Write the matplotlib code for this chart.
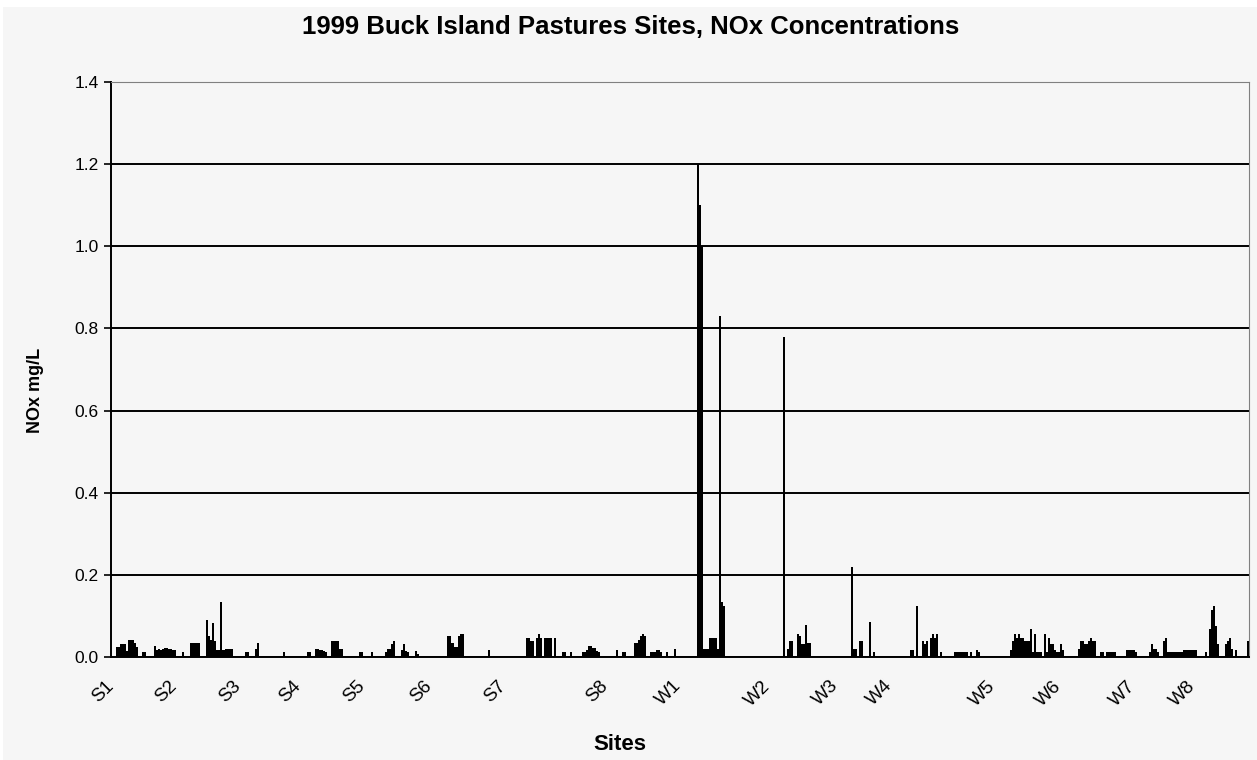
import numpy as np
import matplotlib.pyplot as plt
from matplotlib.patches import Rectangle

###### data (NOx mg/L per sample, grouped by site)

s1 = [.024, .024, .032, .032, .032, .015, .041, .041, .041, .035, .024, 0, 0, .013, .013,
      0, 0, 0, 0, .026, .018, .02, .018, .02, .022, .022, .02, .02, .016, .016, 0, 0]
s2 = [0, .013, 0, 0, 0, .034, .034, .034, .034, .034, 0, 0, 0, .09, .052, .041, .082, .038,
      .017, .017, .135, .017, .017, .02, .02, .02, .02, 0, 0, 0, 0, 0]
s3 = [0, .013, .013, 0, 0, 0, .02, .034] + [0] * 12 + [.013] + [0] * 9
s4 = [0, 0, .011, .011, 0, 0, .02, .02, .016, .018, .014, .011, 0, 0, .039, .039, .039, .039,
      .02, .02] + [0] * 8 + [.011, .011, 0, 0]
s5 = [0, 0, .011, 0, 0, 0, 0, 0, 0, .011, .02, .02, .031, .039, 0, 0, 0, .018, .031, .014,
      .011, 0, 0, 0, .014, .008] + [0] * 8
s6 = [0] * 6 + [.05, .05, .034, .034, .024, .024, .05, .057, .057] + [0] * 12 + [.016] + [0] * 9
s7 = [0] * 9 + [.047, .047, .04, .04, 0, .047, .055, .047, 0, .047, .047, .047, .047, 0, .047,
      0, 0, 0, .011, .011, 0, 0, .011, 0, 0, 0, 0, 0, .013, .013, .018, .028, .028, .022,
      .022, .015, .013] + [0] * 5
s8 = [0, 0, 0, .016, 0, 0, .011, .011, 0, 0, 0, 0, .033, .033, .041, .05, .057, .05, 0, 0,
      .011, .011, .011, .016, .016, .011, 0, 0, .011, 0, 0, 0, .02, 0, 0, 0, 0]
w1 = [0] * 7 + [1.2, 1.1, 1.0, .02, .02, .02, .046, .046, .046, .046, .02, .83, .135, .124] + [0] * 24
w2 = [0] * 5 + [.78, 0, .02, .039, .039, 0, 0, .055, .05, .031, .031, .077, .033, .033] + [0] * 15
w3 = [0] * 5 + [.22, .02, .02, 0, .04, .04, 0, 0, 0, .086, 0, .011] + [0] * 10
w4 = [0] * 8 + [.018, .018, 0, .124, 0, 0, .039, .031, .039, 0, .047, .055, .047, .055, 0,
      .011] + [0] * 6 + [.011] * 7 + [0, .011, 0, 0, .016, .011] + [0] * 9
w5 = [0] * 6 + [.016, .04, .055, .047, .055, .047, .047, .04, .04, .04, .069, .011, .055, .011,
      .011, .011, 0, .055, .011, .047, .031, .031, .018, .011, .011, .031, .016]
w6 = [0] * 7 + [.02, .04, .04, .031, .031, .04, .047, .04, .04, 0, 0, .011, .011, 0] + [.011] * 5 \
     + [0] * 5 + [.016] * 5 + [.011]
w7 = [0] * 6 + [.011, .031, .02, .02, .011, 0, 0, .039, .047] + [.011] * 8 + [.016] * 7
w8 = [0] * 4 + [.011, 0, .069, .114, .124, .075, .031, 0, 0, 0, .031, .04, .047, .02, 0, .016,
      0, 0, 0, 0, 0, .039]

site_names = ['S1', 'S2', 'S3', 'S4', 'S5', 'S6', 'S7', 'S8',
              'W1', 'W2', 'W3', 'W4', 'W5', 'W6', 'W7', 'W8']
site_values = [s1, s2, s3, s4, s5, s6, s7, s8, w1, w2, w3, w4, w5, w6, w7, w8]


def main():
    values = np.concatenate([np.array(v, dtype=float) for v in site_values])
    starts = np.cumsum([0] + [len(v) for v in site_values[:-1]])
    n = len(values)

    fig = plt.figure(figsize=(12.57, 7.6), dpi=100)
    fig.patch.set_facecolor('white')
    bg = '#f6f6f6'
    fig.patches.append(Rectangle((3 / 1257, 0), 1 - 3 / 1257, 1 - 7 / 760,
                                 transform=fig.transFigure, facecolor=bg,
                                 edgecolor='none', zorder=-10))

    ax = fig.add_axes([111 / 1257, 103 / 760, 1138 / 1257, 575 / 760])
    ax.set_facecolor(bg)

    x = np.arange(n)
    ax.bar(x, values, width=1.0, color='black', linewidth=0, antialiased=False, zorder=3)

    ax.set_xlim(-0.5, n - 0.5)
    ax.set_ylim(0, 1.4)
    ax.set_yticks(np.arange(0, 1.41, 0.2))
    ax.set_yticklabels(['%.1f' % t for t in np.arange(0, 1.41, 0.2)],
                       fontsize=12.5, family='Liberation Sans')
    ax.tick_params(axis='y', direction='out', length=5, width=1.2, color='black', pad=4)
    ax.yaxis.grid(True, color='black', lw=1.4)
    ax.set_axisbelow(True)

    ax.set_xticks(starts - 3)
    ax.set_xticklabels(site_names, rotation=45, ha='right', va='center',
                       rotation_mode='anchor', fontsize=13.5, family='Liberation Sans')
    ax.tick_params(axis='x', length=0, pad=19)

    ax.spines['left'].set_color('black')
    ax.spines['left'].set_linewidth(1.4)
    ax.spines['bottom'].set_color('black')
    ax.spines['bottom'].set_linewidth(1.4)
    ax.spines['top'].set_color('#808080')
    ax.spines['right'].set_color('#808080')
    ax.spines['bottom'].set_zorder(4)

    fig.text(0.502, 1 - 27 / 760, '1999 Buck Island Pastures Sites, NOx Concentrations',
             ha='center', va='center', fontsize=18.5, fontweight='bold', family='Liberation Sans')
    fig.text(35 / 1257, 1 - 390 / 760, 'NOx mg/L', rotation=90, ha='center', va='center',
             fontsize=13, fontweight='bold', family='Liberation Sans')
    fig.text(620 / 1257, 1 - 745 / 760, 'Sites', ha='center', va='center',
             fontsize=16, fontweight='bold', family='Liberation Sans')

    fig.savefig('out.png', dpi=100, facecolor=fig.get_facecolor())


if __name__ == "__main__":
    main()
